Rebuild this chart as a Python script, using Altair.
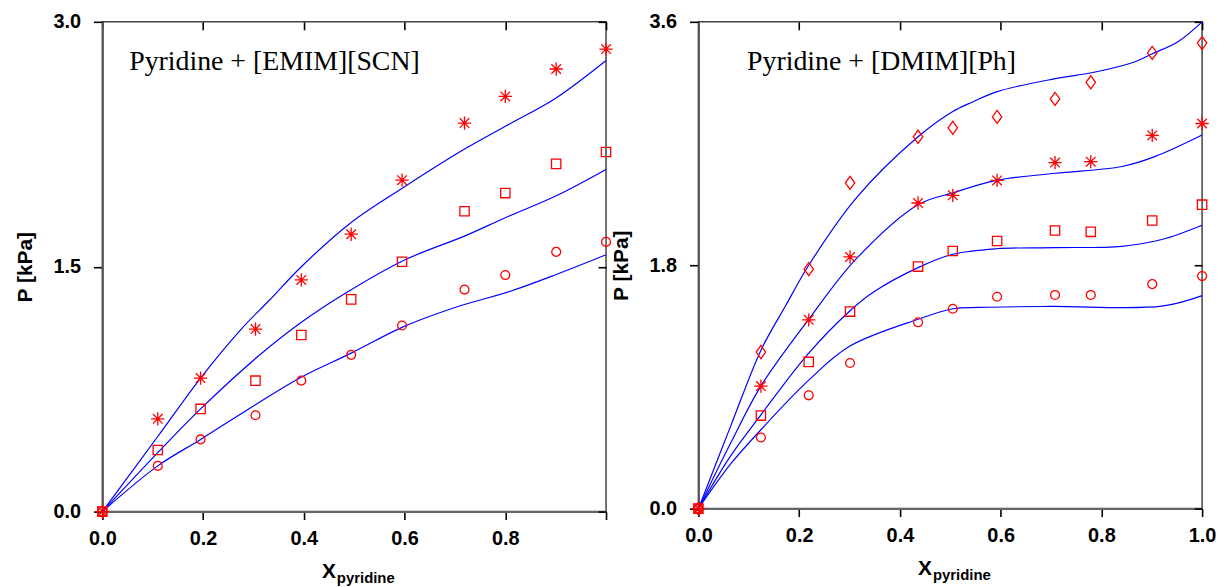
import altair as alt
import pandas as pd

# ---------------- data ----------------
# Left panel: Pyridine + [EMIM][SCN]
L_LABEL = "Pyridine + [EMIM][SCN]"
L_X = [0, 0.11, 0.195, 0.304, 0.395, 0.494, 0.595, 0.719, 0.80, 0.901, 1.0]
L_STAR = [0, 0.568, 0.818, 1.118, 1.419, 1.699, 2.03, 2.38, 2.543, 2.711, 2.833]
L_SQUARE = [0, 0.377, 0.629, 0.802, 1.082, 1.30, 1.53, 1.84, 1.951, 2.13, 2.203]
L_CIRCLE = [0, 0.28, 0.442, 0.59, 0.802, 0.96, 1.14, 1.36, 1.449, 1.591, 1.652]

L_TOP_X = [0, 0.11, 0.195, 0.274, 0.332, 0.394, 0.494, 0.597, 0.72, 0.80, 0.90, 1.0]
L_TOP_P = [0, 0.46, 0.818, 1.112, 1.296, 1.497, 1.771, 1.984, 2.222, 2.36, 2.532, 2.763]
L_MID_X = [0, 0.11, 0.195, 0.308, 0.393, 0.48, 0.597, 0.72, 0.80, 0.90, 1.0]
L_MID_P = [0, 0.361, 0.629, 0.948, 1.155, 1.333, 1.537, 1.689, 1.80, 1.933, 2.096]
L_LOW_X = [0, 0.11, 0.195, 0.304, 0.393, 0.495, 0.596, 0.70, 0.81, 0.90, 1.0]
L_LOW_P = [0, 0.28, 0.442, 0.655, 0.82, 0.972, 1.13, 1.25, 1.35, 1.451, 1.573]

# Right panel: Pyridine + [DMIM][Ph]
R_LABEL = "Pyridine + [DMIM][Ph]"
R_X = [0, 0.124, 0.219, 0.301, 0.436, 0.505, 0.593, 0.708, 0.779, 0.901, 1.0]
R_DIAMOND = [0, 1.158, 1.771, 2.409, 2.75, 2.816, 2.897, 3.03, 3.153, 3.37, 3.443]
R_STAR = [0, 0.906, 1.396, 1.861, 2.26, 2.317, 2.427, 2.559, 2.566, 2.76, 2.848]
R_SQUARE = [0, 0.688, 1.085, 1.457, 1.79, 1.905, 1.979, 2.057, 2.047, 2.131, 2.248]
R_CIRCLE = [0, 0.526, 0.838, 1.077, 1.378, 1.478, 1.567, 1.58, 1.58, 1.66, 1.72]

R_C1_X = [0, 0.064, 0.124, 0.173, 0.219, 0.314, 0.436, 0.505, 0.544, 0.593, 0.706, 0.788, 0.867, 0.90, 0.952, 1.0]
R_C1_P = [0, 0.61, 1.17, 1.50, 1.80, 2.30, 2.75, 2.937, 3.007, 3.084, 3.178, 3.229, 3.305, 3.362, 3.453, 3.6]
R_C2_X = [0, 0.064, 0.124, 0.219, 0.314, 0.436, 0.505, 0.592, 0.709, 0.841, 0.906, 1.0]
R_C2_P = [0, 0.485, 0.906, 1.40, 1.85, 2.248, 2.335, 2.427, 2.48, 2.53, 2.603, 2.763]
R_C3_X = [0, 0.064, 0.124, 0.219, 0.30, 0.347, 0.436, 0.505, 0.592, 0.709, 0.841, 0.92, 1.0]
R_C3_P = [0, 0.39, 0.693, 1.15, 1.46, 1.60, 1.782, 1.881, 1.922, 1.93, 1.94, 1.99, 2.096]
R_C4_X = [0, 0.064, 0.124, 0.219, 0.30, 0.436, 0.505, 0.557, 0.70, 0.92, 1.0]
R_C4_P = [0, 0.33, 0.583, 0.95, 1.2, 1.40, 1.478, 1.488, 1.495, 1.497, 1.575]

X_TICKS = [0, 0.2, 0.4, 0.6, 0.8, 1.0]
L_Y_TICKS = [0, 1.5, 3.0]
R_Y_TICKS = [0, 1.8, 3.6]
Y_TITLE = "P [kPa]"
X_MAIN = "X"
X_SUB = "pyridine"

# ---------------- styling ----------------
FONT = "Liberation Sans"
SERIF = "Liberation Serif"
RED = "#ff0000"
BLUE = "#0000ff"
STAR_PATH = "M0,-1L0,1M-1,0L1,0M-0.72,-0.72L0.72,0.72M-0.72,0.72L0.72,-0.72"
DIAMOND_PATH = "M0,-1L0.72,0L0,1L-0.72,0Z"
SHAPES = {
    "circle": ("circle", 80),
    "square": ("square", 88),
    "star": (STAR_PATH, 180),
    "diamond": (DIAMOND_PATH, 175),
}
W = 507


def panel(xvals, series, curves, ymax, yticks, label, label_x, hide_last_x, height):
    xs = alt.Scale(domain=[0, 1], nice=False, zero=False)
    ys = alt.Scale(domain=[0, ymax], nice=False, zero=False)
    label_expr = ("datum.value > 0.99 ? '' : format(datum.value, '.1f')"
                  if hide_last_x else "format(datum.value, '.1f')")
    ax_bottom = alt.Axis(orient="bottom", values=X_TICKS, labelExpr=label_expr,
                         title=None, tickSize=8, tickWidth=1.6, tickColor="black",
                         domainColor="#666666", domainWidth=2, labelPadding=9,
                         labelFont=FONT, labelFontSize=20, labelFontWeight="bold",
                         labelColor="black", labelFlush=False, grid=False)
    ax_left = alt.Axis(orient="left", values=yticks, format=".1f",
                       title=Y_TITLE, titleFont=FONT, titleFontSize=21,
                       titleFontWeight="bold", titleColor="black", titlePadding=18,
                       tickSize=9, tickWidth=1.6, tickColor="black",
                       domainColor="#555555", domainWidth=2, labelPadding=13,
                       labelFont=FONT, labelFontSize=20, labelFontWeight="bold",
                       labelColor="black", labelFlush=False, grid=False)
    ax_top = alt.Axis(orient="top", values=X_TICKS, labels=False, domain=False,
                      tickSize=8, tickWidth=1.6, tickColor="black", offset=-8,
                      title=None, grid=False)
    ax_right = alt.Axis(orient="right", values=yticks, labels=False, domain=False,
                        tickSize=8, tickWidth=1.6, tickColor="black", offset=-8,
                        title=None, grid=False)

    rows = []
    for name, (cx, cp) in curves.items():
        for a, b in zip(cx, cp):
            rows.append({"x": a, "P": b, "curve": name})
    line_df = pd.DataFrame(rows)
    lines = alt.Chart(line_df).mark_line(
        color=BLUE, strokeWidth=1.2, interpolate="catmull-rom"
    ).encode(
        x=alt.X("x:Q", scale=xs, axis=ax_bottom),
        y=alt.Y("P:Q", scale=ys, axis=ax_left),
        detail="curve:N",
    )

    layers = [lines]
    first = True
    for name, vals in series.items():
        shape, size = SHAPES[name]
        df = pd.DataFrame({"x": xvals, "P": vals})
        layers.append(
            alt.Chart(df).mark_point(
                shape=shape, size=size, filled=False, color=RED, strokeWidth=1.3,
                opacity=1,
            ).encode(
                x=alt.X("x:Q", scale=xs, axis=ax_top if first else None),
                y=alt.Y("P:Q", scale=ys, axis=ax_right if first else None),
            )
        )
        first = False

    txt = alt.Chart(pd.DataFrame({"t": [label]})).mark_text(
        font=SERIF, fontSize=28, align="left", baseline="middle", color="black"
    ).encode(text="t:N", x=alt.value(label_x), y=alt.value(40))

    xt1 = alt.Chart(pd.DataFrame({"t": [X_MAIN]})).mark_text(
        font=FONT, fontSize=21, fontWeight="bold", align="left",
        baseline="alphabetic", color="black"
    ).encode(text="t:N", x=alt.value(221), y=alt.value(height + 67))
    xt2 = alt.Chart(pd.DataFrame({"t": [X_SUB]})).mark_text(
        font=FONT, fontSize=15, fontWeight="bold", align="left",
        baseline="alphabetic", color="black"
    ).encode(text="t:N", x=alt.value(236), y=alt.value(height + 72))

    layers += [txt, xt1, xt2]
    return alt.layer(*layers).resolve_axis(x="independent", y="independent").properties(
        width=W, height=height
    )


left = panel(
    L_X,
    {"circle": L_CIRCLE, "square": L_SQUARE, "star": L_STAR},
    {"top": (L_TOP_X, L_TOP_P), "mid": (L_MID_X, L_MID_P), "low": (L_LOW_X, L_LOW_P)},
    3.0, L_Y_TICKS, L_LABEL, 27, True, 493,
)
right = panel(
    R_X,
    {"circle": R_CIRCLE, "square": R_SQUARE, "star": R_STAR, "diamond": R_DIAMOND},
    {"c1": (R_C1_X, R_C1_P), "c2": (R_C2_X, R_C2_P), "c3": (R_C3_X, R_C3_P),
     "c4": (R_C4_X, R_C4_P)},
    3.6, R_Y_TICKS, R_LABEL, 49, False, 490,
)

chart = alt.hconcat(left, right, spacing=93, bounds="flush").properties(
    padding={"left": 5, "top": 1, "right": 0, "bottom": 0}
).configure_view(stroke="#444444", strokeWidth=1.5).configure_axis(grid=False)

chart.save("out.html", embed_options={"renderer": "svg", "actions": False})
